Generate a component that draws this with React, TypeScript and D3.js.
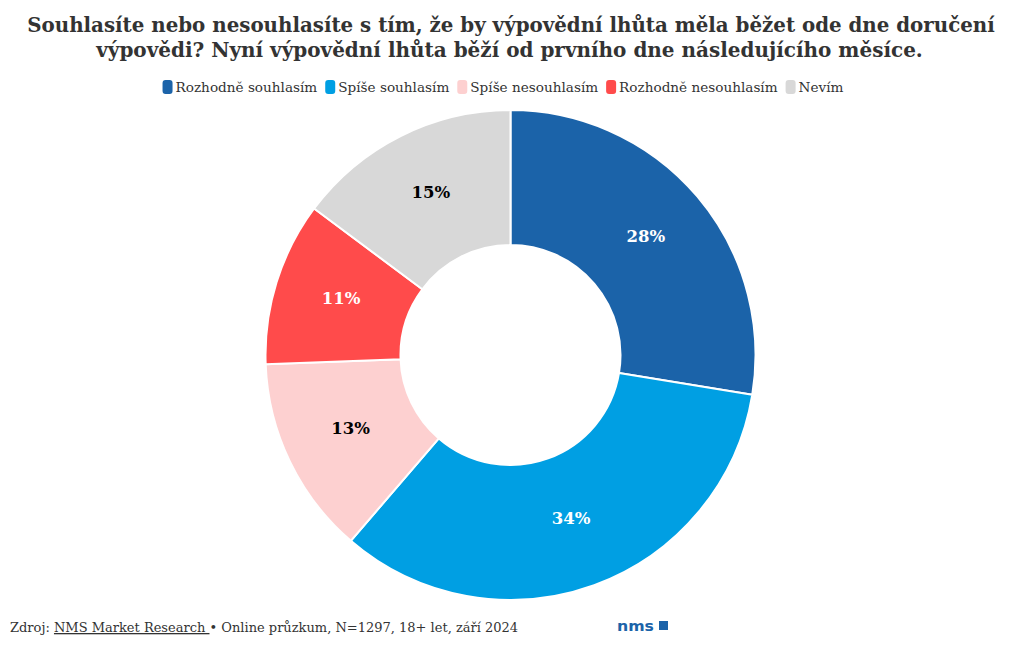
import React, { useEffect, useRef } from "react";
import * as d3 from "d3";

const categories = ["Rozhodně souhlasím", "Spíše souhlasím", "Spíše nesouhlasím", "Rozhodně nesouhlasím", "Nevím"];
const values = [27.6, 33.7, 13.1, 10.8, 14.8];
const labels = ["28%", "34%", "13%", "11%", "15%"];
const colors = ["#1b63a9", "#009fe3", "#fdd0d0", "#ff4b4b", "#d8d8d8"];
const labelColors = ["#ffffff", "#ffffff", "#000000", "#ffffff", "#000000"];
const titleLines = [
  "Souhlasíte nebo nesouhlasíte s tím, že by výpovědní lhůta měla běžet ode dne doručení",
  "výpovědi? Nyní výpovědní lhůta běží od prvního dne následujícího měsíce.",
];
const sourcePrefix = "Zdroj: ";
const sourceLink = "NMS Market Research ";
const sourceSuffix = " • Online průzkum, N=1297, 18+ let, září 2024";

const W = 1020;
const H = 650;
const FONT = "'DejaVu Serif', 'Liberation Serif', serif";

export default function App() {
  const ref = useRef<SVGSVGElement>(null);
  useEffect(() => {
    const svg = d3.select(ref.current);
    svg.selectAll("*").remove();

    // Title: font size fitted so the text's natural width matches the reference
    const title = svg.append("g");
    const titleWidths = [968, 827];
    const titleCenters = [511, 509.5];
    const baseSize = 20;
    titleLines.forEach((t, i) => {
      const el = title
        .append("text")
        .attr("x", titleCenters[i])
        .attr("y", 32 + i * 25)
        .attr("text-anchor", "middle")
        .attr("font-family", FONT)
        .attr("font-weight", "bold")
        .attr("font-size", baseSize)
        .attr("fill", "#333333")
        .text(t);
      const nat = (el.node() as SVGTextElement).getComputedTextLength();
      const fs = baseSize * (titleWidths[i] / nat);
      el.attr("font-size", fs);
    });

    // Legend
    const legend = svg.append("g");
    let x = 0;
    categories.forEach((c, i) => {
      const g = legend.append("g").attr("transform", `translate(${x},0)`);
      g.append("rect")
        .attr("x", 0)
        .attr("y", -7)
        .attr("width", 10)
        .attr("height", 14)
        .attr("rx", 3)
        .attr("fill", colors[i]);
      const t = g
        .append("text")
        .attr("x", 13)
        .attr("y", 5)
        .attr("font-family", FONT)
        .attr("font-size", 13.6)
        .attr("fill", "#333333")
        .text(c);
      const w = (t.node() as SVGTextElement).getComputedTextLength();
      x += 13 + w + 8;
    });
    const legendW = x - 8;
    legend.attr("transform", `translate(${503 - legendW / 2},87)`);

    // Donut
    const cx = 510.5;
    const cy = 355;
    const outerR = 245;
    const innerR = 110;
    const pie = d3.pie<number>().sort(null).value((d) => d);
    const arcs = pie(values);
    const arc = d3.arc<d3.PieArcDatum<number>>().innerRadius(innerR).outerRadius(outerR);
    const g = svg.append("g").attr("transform", `translate(${cx},${cy})`);
    g.selectAll("path.slice")
      .data(arcs)
      .join("path")
      .attr("class", "slice")
      .attr("d", arc)
      .attr("fill", (_d, i) => colors[i])
      .attr("stroke", "#ffffff")
      .attr("stroke-width", 2)
      .attr("stroke-linejoin", "round");
    g.selectAll("text.lbl")
      .data(arcs)
      .join("text")
      .attr("class", "lbl")
      .attr("transform", (d) => {
        const [px, py] = arc.centroid(d);
        return `translate(${px},${py})`;
      })
      .attr("text-anchor", "middle")
      .attr("dy", "0.11em")
      .attr("font-family", FONT)
      .attr("font-weight", "bold")
      .attr("font-size", 16.5)
      .attr("fill", (_d, i) => labelColors[i])
      .text((_d, i) => labels[i]);

    // Footer
    const foot = svg
      .append("text")
      .attr("x", 10)
      .attr("y", 632)
      .attr("font-family", FONT)
      .attr("font-size", 13)
      .attr("fill", "#333333");
    foot.append("tspan").text(sourcePrefix);
    foot.append("tspan").attr("text-decoration", "underline").text(sourceLink);
    foot.append("tspan").text(sourceSuffix);

    // Logo
    const logo = svg.append("g").attr("transform", "translate(617,631)");
    logo
      .append("text")
      .attr("x", 0)
      .attr("y", 0)
      .attr("font-family", "'DejaVu Sans', sans-serif")
      .attr("font-weight", "bold")
      .attr("font-size", 14)
      .attr("fill", "#1b63a9")
      .attr("textLength", 37)
      .attr("lengthAdjust", "spacingAndGlyphs")
      .text("nms");
    logo
      .append("rect")
      .attr("x", 42)
      .attr("y", -10)
      .attr("width", 9)
      .attr("height", 9)
      .attr("fill", "#1b63a9");
  }, []);

  return (
    <svg
      ref={ref}
      width={W}
      height={H}
      style={{ position: "absolute", left: 0, top: 0, background: "#ffffff" }}
    />
  );
}
